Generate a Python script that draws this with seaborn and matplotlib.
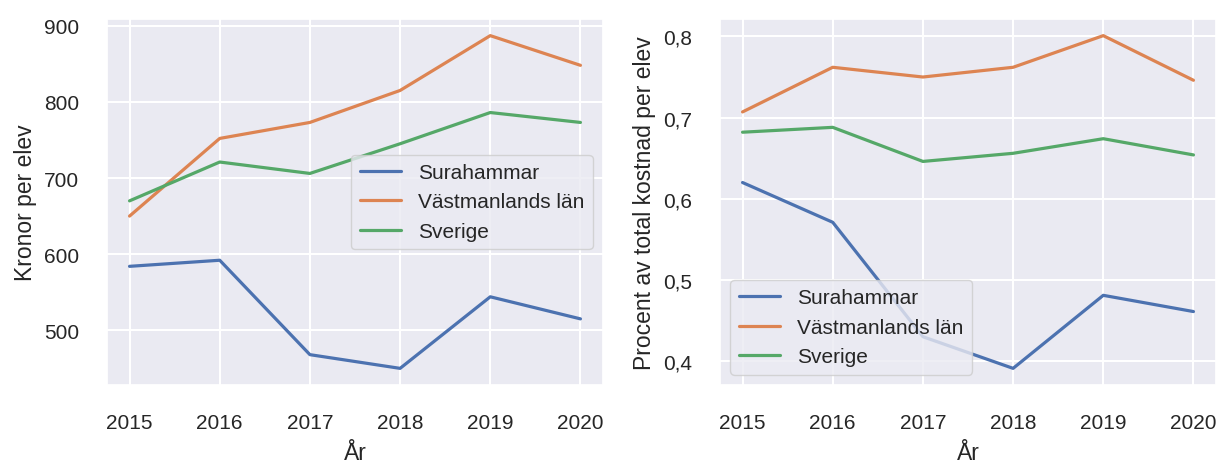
import numpy as np
import pandas as pd
import matplotlib
matplotlib.use("Agg")
import matplotlib.pyplot as plt
from matplotlib.ticker import FuncFormatter, FixedLocator
import seaborn as sns

# ---- data ----
years = [2015, 2016, 2017, 2018, 2019, 2020]
series_names = ["Surahammar", "Västmanlands län", "Sverige"]

kronor_surahammar = [584, 592, 468, 450, 544, 515]
kronor_vastmanland = [650, 752, 773, 815, 887, 848]
kronor_sverige = [670, 721, 706, 745, 786, 773]

procent_surahammar = [0.620, 0.571, 0.430, 0.391, 0.481, 0.461]
procent_vastmanland = [0.707, 0.762, 0.750, 0.762, 0.801, 0.746]
procent_sverige = [0.682, 0.688, 0.646, 0.656, 0.674, 0.654]

left_ylabel = "Kronor per elev"
right_ylabel = "Procent av total kostnad per elev"
xlabel = "År"
left_yticks = [500, 600, 700, 800, 900]
right_yticks = [0.4, 0.5, 0.6, 0.7, 0.8]


def long_df(values):
    rows = []
    for name, vals in zip(series_names, values):
        for y, v in zip(years, vals):
            rows.append({"År": y, "Värde": v, "Område": name})
    return pd.DataFrame(rows)


df_kr = long_df([kronor_surahammar, kronor_vastmanland, kronor_sverige])
df_pr = long_df([procent_surahammar, procent_vastmanland, procent_sverige])

sns.set_theme(style="darkgrid")
plt.rcParams["font.family"] = ["Liberation Sans", "DejaVu Sans"]
plt.rcParams.update({
    "xtick.labelsize": 15,
    "ytick.labelsize": 15,
    "axes.labelsize": 16.5,
    "legend.fontsize": 15,
    "lines.linewidth": 2.3,
    "grid.linewidth": 1.5,
})

W, H = 1216, 464
fig = plt.figure(figsize=(W / 100, H / 100), dpi=100)
ax1 = fig.add_axes([107 / W, 1 - 386 / H, (603 - 107) / W, (386 - 20) / H])
ax2 = fig.add_axes([720 / W, 1 - 386 / H, (1216 - 720) / W, (386 - 20) / H])

palette = sns.color_palette("deep", 3)

sns.lineplot(data=df_kr, x="År", y="Värde", hue="Område", palette=palette, ax=ax1)
sns.lineplot(data=df_pr, x="År", y="Värde", hue="Område", palette=palette, ax=ax2)

for ax, ylab, yt, loc in [(ax1, left_ylabel, left_yticks, "center right"),
                          (ax2, right_ylabel, right_yticks, "lower left")]:
    ax.xaxis.set_major_locator(FixedLocator(years))
    ax.set_xticklabels([str(y) for y in years])
    ax.yaxis.set_major_locator(FixedLocator(yt))
    ax.tick_params(length=0, pad=20)
    ax.set_xlabel(xlabel, labelpad=7)
    ax.set_ylabel(ylab, labelpad=5)
    old = ax.get_legend()
    handles = old.legend_handles
    labels = [t.get_text() for t in old.get_texts()]
    old.remove()
    ax.legend(handles, labels, loc=loc)

ax2.yaxis.set_major_formatter(FuncFormatter(lambda v, p: f"{v:.1f}".replace(".", ",")))

fig.savefig("out.png", dpi=100)
